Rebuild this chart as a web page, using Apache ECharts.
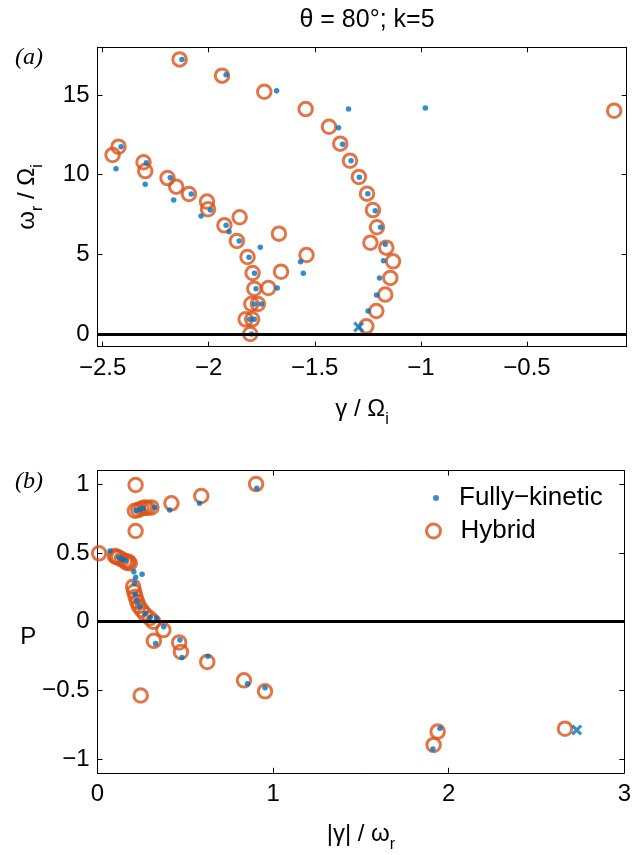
<!DOCTYPE html>
<html>
<head>
<meta charset="utf-8">
<script src="https://cdn.jsdelivr.net/npm/echarts@6/dist/echarts.min.js"></script>
<style>
html,body{margin:0;padding:0;background:#fff;}
#chart{width:634px;height:855px;}
</style>
</head>
<body>
<div id="chart"></div>
<script>
// ---- Panel (a): omega_r / Omega_i versus gamma / Omega_i ----
const hybridGamma = [-2.137,-1.937,-1.738,-1.543,-0.089,-1.433,-1.380,-1.334,-1.292,-1.254,-1.226,-1.207,-1.238,-1.163,-1.131,-1.144,-1.168,-1.210,-1.257,
  -2.425,-2.453,-2.307,-2.299,-2.194,-2.153,-2.093,-2.008,-2.003,-1.854,-1.926,-1.669,-1.867,-1.817,-1.539,-1.793,-1.659,-1.785,-1.719,-1.799,-1.768,-1.826,-1.795,-1.804];
const hybridOmega = [17.24,16.22,15.21,14.12,14.02,13.01,11.95,10.88,9.86,8.81,7.78,6.70,5.73,5.42,4.56,3.52,2.47,1.44,0.48,
  11.76,11.24,10.78,10.23,9.79,9.25,8.79,8.31,7.83,7.33,6.82,6.30,5.84,4.83,4.96,3.83,3.91,2.84,2.89,1.88,1.88,0.92,0.92,0.0];
const kineticGamma = [-2.126,-1.918,-1.680,-1.341,-0.979,-1.388,-1.369,-1.329,-1.290,-1.250,-1.215,-1.190,-1.168,-1.176,-1.195,-1.209,-1.249,
  -2.413,-2.437,-2.294,-2.299,-2.181,-2.165,-2.082,-1.992,-2.036,-1.918,-1.904,-1.856,-1.757,-1.810,-1.567,-1.554,-1.784,-1.777,-1.677,-1.784,-1.752,-1.807,-1.785,-1.798];
const kineticOmega = [17.24,16.28,15.27,14.12,14.19,12.95,11.91,10.87,9.84,8.81,7.74,6.70,5.63,4.60,3.52,2.45,1.44,
  11.76,10.38,10.75,9.40,9.81,8.41,8.79,7.78,7.41,6.82,6.42,5.84,5.44,4.81,4.54,3.81,3.81,2.84,2.89,1.88,1.88,0.92,0.92,0.0];
const crossGamma = [-1.293];
const crossOmega = [0.44];

// ---- Panel (b): P versus |gamma| / omega_r ----
const hybridRatio = [0.217,0.903,0.591,0.421,0.307,0.213,0.232,0.251,0.269,0.285,0.217,0.009,
  0.099,0.108,0.118,0.137,0.156,0.165,0.175,0.184,
  0.203,0.209,0.217,0.226,0.235,0.251,0.269,0.298,0.317,
  0.375,0.321,0.465,0.475,0.625,0.834,0.954,0.246,1.937,1.914,2.662];
const hybridP = [0.995,1.002,0.915,0.862,0.832,0.808,0.813,0.825,0.832,0.828,0.660,0.498,
  0.478,0.470,0.469,0.454,0.444,0.430,0.437,0.425,
  0.255,0.218,0.182,0.146,0.114,0.085,0.056,0.025,0.0,
  -0.061,-0.139,-0.151,-0.220,-0.293,-0.427,-0.507,-0.537,-0.800,-0.897,-0.779];
const kineticRatio = [0.907,0.581,0.411,0.326,0.071,0.207,0.254,0.217,0.336,0.377,0.331,0.469,0.481,0.629,0.854,0.954,1.950,1.910,
  0.120,0.140,0.160,0.210,0.215,0.225,0.240,0.270,0.300,0.220,0.240,0.260];
const kineticP = [0.971,0.862,0.813,0.832,0.515,0.364,0.345,0.323,0.025,-0.036,-0.159,-0.134,-0.261,-0.251,-0.451,-0.480,-0.776,-0.926,
  0.470,0.455,0.445,0.280,0.200,0.150,0.110,0.060,0.030,0.810,0.815,0.825];
const crossRatio = [2.729];
const crossP = [-0.788];

// ---- ticks and labels ----
const topXTicks = [-2.5,-2,-1.5,-1,-0.5];
const topYTicks = [0,5,10,15];
const botXTicks = [0,1,2,3];
const botYTicks = [-1,-0.5,0,0.5,1];
const titleText = 'θ = 80°; k=5';
const legendNames = ['Fully−kinetic','Hybrid'];

const BLUE = '#0072BD', ORANGE = '#D95319';
const FONT = "'Liberation Sans', Arial, Helvetica, sans-serif";
const fmt = v => String(v).replace('-', '−');
const zip = (a, b) => a.map((v, i) => [v, b[i]]);
const crossPath = 'path://M0,2 L2,0 L5,3 L8,0 L10,2 L7,5 L10,8 L8,10 L5,7 L2,10 L0,8 L3,5 Z';

function makeX(gridIndex, min, max, ticks, pos, showLabel, name) {
  return {
    type: 'value', gridIndex, min, max, position: pos,
    axisLine: {show: true, onZero: false, lineStyle: {color: '#000', width: 1}},
    axisTick: {show: true, inside: true, length: 5, customValues: ticks, lineStyle: {color: '#000', width: 1}},
    axisLabel: {show: showLabel, customValues: ticks, formatter: fmt, color: '#000', fontSize: 24, fontFamily: FONT, margin: 10},
    splitLine: {show: false},
    name: name || '', nameLocation: 'middle', nameGap: 45
  };
}
function makeY(gridIndex, min, max, ticks, pos, showLabel) {
  return {
    type: 'value', gridIndex, min, max, position: pos,
    axisLine: {show: true, onZero: false, lineStyle: {color: '#000', width: 1}},
    axisTick: {show: true, inside: true, length: 5, customValues: ticks, lineStyle: {color: '#000', width: 1}},
    axisLabel: {show: showLabel, customValues: ticks, formatter: fmt, color: '#000', fontSize: 24, fontFamily: FONT, margin: 8},
    splitLine: {show: false}
  };
}
const subRich = {
  t: {fontSize: 24, fontFamily: FONT, color: '#000'},
  s: {fontSize: 16, fontFamily: FONT, color: '#000', padding: [20, 0, 0, 0]}
};

const xA0 = makeX(0, -2.524, -0.03, topXTicks, 'bottom', true, '{t|γ / Ω}{s|i}');
xA0.nameTextStyle = {rich: subRich};
const xA2 = makeX(1, 0, 3, botXTicks, 'bottom', true, '{t|\u007Cγ\u007C / ω}{s|r}');
xA2.nameTextStyle = {rich: subRich};
xA2.nameGap = 44;
const yA0 = makeY(0, -0.8, 18, topYTicks, 'left', true);
yA0.name = '{t|ω}{s|r}{t| / Ω}{s|i}';
yA0.nameLocation = 'middle'; yA0.nameGap = 52; yA0.nameRotate = 90;
yA0.nameTextStyle = {rich: subRich};
const yA2 = makeY(1, -1.1, 1.1, botYTicks, 'left', true);
yA2.name = 'P'; yA2.nameLocation = 'middle'; yA2.nameGap = 58; yA2.nameRotate = 0;
yA2.nameTextStyle = {fontSize: 24, fontFamily: FONT, color: '#000', verticalAlign: 'top', padding: [4, 0, 0, 0]};

const zeroLine = {
  silent: true, symbol: ['none', 'none'], label: {show: false},
  lineStyle: {color: '#000', width: 3, type: 'solid'},
  emphasis: {disabled: true},
  data: [{yAxis: 0}]
};
const hybridStyle = {color: 'rgba(0,0,0,0)', borderColor: ORANGE, borderWidth: 3};

const option = {
  animation: false,
  backgroundColor: '#fff',
  textStyle: {fontFamily: FONT},
  title: [
    {text: titleText, left: 362, top: 3, textAlign: 'center', textStyle: {fontSize: 25, fontWeight: 'normal', fontFamily: FONT, color: '#000'}},
    {text: '(a)', left: 10, top: 41, textStyle: {fontSize: 24, fontStyle: 'italic', fontWeight: 'normal', fontFamily: "'Liberation Serif', 'DejaVu Serif', serif", color: '#000'}},
    {text: '(b)', left: 10, top: 465, textStyle: {fontSize: 24, fontStyle: 'italic', fontWeight: 'normal', fontFamily: "'Liberation Serif', 'DejaVu Serif', serif", color: '#000'}}
  ],
  legend: [
    {data: [{name: legendNames[0], icon: 'circle', itemStyle: {color: BLUE}}], left: 433, top: 485, padding: 0,
     itemWidth: 6, itemHeight: 6, selectedMode: false,
     textStyle: {fontSize: 26, fontFamily: FONT, color: '#000', padding: [0, 0, 0, 15]}},
    {data: [{name: legendNames[1], icon: 'circle', itemStyle: {color: 'rgba(0,0,0,0)', borderColor: ORANGE, borderWidth: 3}}], left: 425, top: 518, padding: 0,
     itemWidth: 14, itemHeight: 14, selectedMode: false,
     textStyle: {fontSize: 26, fontFamily: FONT, color: '#000', padding: [0, 0, 0, 15]}}
  ],
  grid: [
    {left: 97.5, top: 47.3, width: 529.2, height: 299.4, containLabel: false},
    {left: 97.5, top: 470.6, width: 529.2, height: 302.2, containLabel: false}
  ],
  xAxis: [
    xA0,
    makeX(0, -2.524, -0.03, topXTicks, 'top', false),
    xA2,
    makeX(1, 0, 3, botXTicks, 'top', false)
  ],
  yAxis: [
    yA0,
    makeY(0, -0.8, 18, topYTicks, 'right', false),
    yA2,
    makeY(1, -1.1, 1.1, botYTicks, 'right', false)
  ],
  series: [
    {name: 'zeroA', type: 'line', xAxisIndex: 0, yAxisIndex: 0, data: [], markLine: zeroLine, z: 1},
    {name: 'zeroB', type: 'line', xAxisIndex: 2, yAxisIndex: 2, data: [], markLine: zeroLine, z: 1},
    {name: legendNames[1], type: 'scatter', xAxisIndex: 0, yAxisIndex: 0, data: zip(hybridGamma, hybridOmega),
     symbol: 'circle', symbolSize: 13.5, itemStyle: hybridStyle, z: 3, emphasis: {disabled: true}},
    {name: legendNames[1], type: 'scatter', xAxisIndex: 2, yAxisIndex: 2, data: zip(hybridRatio, hybridP),
     symbol: 'circle', symbolSize: 13.5, itemStyle: hybridStyle, z: 3, emphasis: {disabled: true}},
    {name: legendNames[0], type: 'scatter', xAxisIndex: 0, yAxisIndex: 0, data: zip(kineticGamma, kineticOmega),
     symbol: 'circle', symbolSize: 5.5, itemStyle: {color: BLUE}, z: 4, emphasis: {disabled: true}},
    {name: legendNames[0], type: 'scatter', xAxisIndex: 2, yAxisIndex: 2, data: zip(kineticRatio, kineticP),
     symbol: 'circle', symbolSize: 5.5, itemStyle: {color: BLUE}, z: 4, emphasis: {disabled: true}},
    {name: 'crossA', type: 'scatter', xAxisIndex: 0, yAxisIndex: 0, data: zip(crossGamma, crossOmega),
     symbol: crossPath, symbolSize: 11, itemStyle: {color: BLUE}, z: 5, emphasis: {disabled: true}},
    {name: 'crossB', type: 'scatter', xAxisIndex: 2, yAxisIndex: 2, data: zip(crossRatio, crossP),
     symbol: crossPath, symbolSize: 11, itemStyle: {color: BLUE}, z: 5, emphasis: {disabled: true}}
  ]
};
const chart = echarts.init(document.getElementById('chart'), null, {renderer: 'canvas'});
chart.setOption(option);
</script>
</body>
</html>
